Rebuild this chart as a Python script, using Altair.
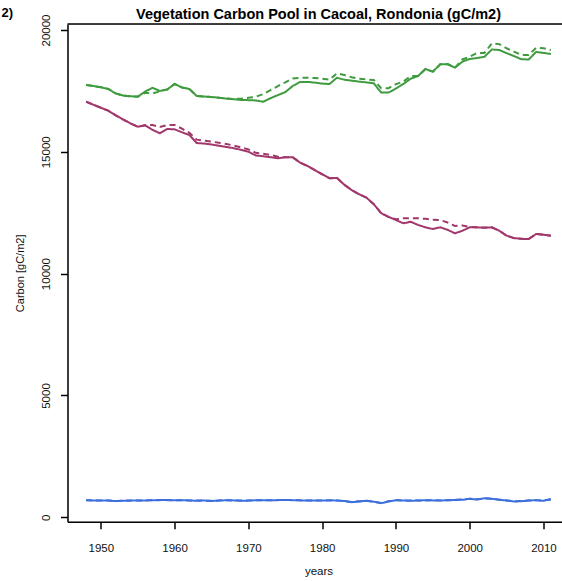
import altair as alt
import pandas as pd

years = list(range(1948, 2012))

green_solid = [17745, 17700,
               17650, 17580, 17400, 17310, 17280, 17265, 17470, 17630, 17500, 17560,
               17785, 17640, 17580, 17290, 17270, 17250, 17220, 17185, 17160, 17130,
               17120, 17110, 17055, 17200, 17330, 17450, 17700, 17870, 17870, 17840,
               17800, 17784, 18040, 17960, 17920, 17880, 17850, 17810, 17430, 17430,
               17600, 17784, 18000, 18110, 18400, 18290, 18590, 18600, 18454, 18700,
               18810, 18850, 18900, 19200, 19180, 19050, 18930, 18800, 18790, 19100,
               19060, 19015]
green_dashed = [17745, 17700,
                17650, 17580, 17400, 17310, 17280, 17265, 17420, 17400, 17480, 17560,
                17785, 17640, 17580, 17290, 17270, 17250, 17220, 17185, 17170, 17180,
                17220, 17260, 17370, 17530, 17700, 17850, 18010, 18040, 18040, 18030,
                18000, 17960, 18220, 18150, 18060, 18000, 17970, 17950, 17610, 17610,
                17780, 17880, 18110, 18110, 18400, 18290, 18590, 18600, 18454, 18790,
                18900, 19060, 19060, 19450, 19420, 19250, 19110, 18975, 18975, 19270,
                19250, 19180]
purple_solid = [17058, 16930,
                16810, 16689, 16500, 16330, 16170, 16032, 16089, 15900, 15761, 15937,
                15923, 15800, 15691, 15360, 15340, 15300, 15250, 15200, 15150, 15080,
                15005, 14850, 14820, 14780, 14734, 14775, 14775, 14560, 14420, 14250,
                14080, 13913, 13930, 13650, 13430, 13260, 13120, 12850, 12480, 12330,
                12202, 12066, 12130, 12000, 11900, 11832, 11902, 11800, 11656, 11760,
                11902, 11900, 11890, 11900, 11763, 11560, 11460, 11430, 11422, 11627,
                11600, 11558]
purple_dashed = [17058, 16930,
                 16810, 16689, 16500, 16330, 16170, 16032, 16089, 16100, 16020, 16100,
                 16100, 15950, 15780, 15500, 15460, 15420, 15370, 15320, 15260, 15180,
                 15100, 14960, 14920, 14870, 14800, 14780, 14775, 14560, 14420, 14250,
                 14080, 13913, 13930, 13650, 13430, 13260, 13120, 12850, 12480, 12330,
                 12230, 12272, 12280, 12272, 12250, 12210, 12200, 12100, 11956, 11980,
                 11920, 11890, 11880, 11900, 11763, 11560, 11460, 11430, 11422, 11627,
                 11600, 11558]
blue_solid = [700, 690,
              695, 690, 665, 680, 685, 690, 690, 700, 705, 710,
              700, 705, 690, 680, 690, 670, 685, 700, 695, 680,
              685, 700, 705, 695, 705, 715, 700, 695, 690, 695,
              690, 700, 690, 670, 620, 650, 680, 640, 580, 650,
              700, 690, 680, 690, 700, 695, 690, 700, 710, 720,
              760, 730, 780, 760, 720, 690, 650, 660, 690, 700,
              680, 740]
blue_dashed = [705, 695,
               690, 695, 670, 685, 690, 695, 695, 705, 710, 705,
               705, 700, 695, 685, 685, 675, 690, 705, 690, 685,
               690, 705, 700, 700, 710, 710, 705, 700, 695, 690,
               695, 695, 695, 665, 630, 655, 675, 645, 590, 655,
               705, 695, 685, 695, 695, 700, 695, 705, 715, 730,
               765, 740, 785, 765, 725, 695, 660, 665, 695, 705,
               690, 745]

x_ticks = [1950, 1960, 1970, 1980, 1990, 2000, 2010]
y_ticks = [0, 5000, 10000, 15000, 20000]
title_text = "Vegetation Carbon Pool in Cacoal, Rondonia (gC/m2)"
panel_text = "2)"

series = [
    ("green_solid", "green", "solid", green_solid),
    ("green_dashed", "green", "dashed", green_dashed),
    ("purple_solid", "purple", "solid", purple_solid),
    ("purple_dashed", "purple", "dashed", purple_dashed),
    ("blue_solid", "blue", "solid", blue_solid),
    ("blue_dashed", "blue", "dashed", blue_dashed),
]
rows = []
for key, pool, style, vals in series:
    for yr, v in zip(years, vals):
        rows.append({"year": yr, "carbon": v, "series": key, "pool": pool, "style": style})
df = pd.DataFrame(rows)

W = 494.5
H = 497.7
FONT = "Liberation Sans"

x_enc = alt.X("year:Q",
              scale=alt.Scale(domain=[1945.48, 2012.51], nice=False, zero=False),
              axis=alt.Axis(values=x_ticks, format="d", grid=False,
                            domainColor="black", domainWidth=1.5,
                            tickColor="black", tickWidth=1.5, tickSize=7,
                            labelFontSize=11.5, labelColor="#111111",
                            labelBaseline="middle", labelPadding=20,
                            labelFont=FONT,
                            title="years", titleFont=FONT, titleFontSize=11.5,
                            titleFontWeight="normal", titleColor="#111111",
                            titleX=251, titleY=50, titleBaseline="middle"))
y_enc = alt.Y("carbon:Q",
              scale=alt.Scale(domain=[-180, 20246], nice=False, zero=False),
              axis=alt.Axis(values=y_ticks, format="d", grid=False,
                            domainColor="black", domainWidth=1.5,
                            tickColor="black", tickWidth=1.5, tickSize=7,
                            labelFontSize=11.5, labelColor="#111111",
                            labelAngle=270, labelAlign="center",
                            labelBaseline="middle", labelPadding=14,
                            labelFont=FONT,
                            title="Carbon [gC/m2]", titleFont=FONT,
                            titleFontSize=11, titleFontWeight="normal",
                            titleColor="#111111", titleAngle=270,
                            titleAlign="center", titleBaseline="middle",
                            titleX=-47, titleY=H / 2))

lines = alt.Chart(df).mark_line(strokeWidth=2).encode(
    x=x_enc,
    y=y_enc,
    color=alt.Color("pool:N",
                    scale=alt.Scale(domain=["green", "purple", "blue"],
                                    range=["#3e9b3e", "#a1386b", "#3c6fdc"]),
                    legend=None),
    strokeDash=alt.StrokeDash("style:N",
                              scale=alt.Scale(domain=["solid", "dashed"],
                                              range=[[1, 0], [6, 4]]),
                              legend=None),
    detail="series:N",
)

one = pd.DataFrame({"t": [panel_text], "title": [title_text]})
top_rule = alt.Chart(one).mark_rule(color="black", strokeWidth=1.5).encode(
    x=alt.value(0), x2=alt.value(W), y=alt.value(0))
panel_label = alt.Chart(one).mark_text(
    align="left", baseline="alphabetic", fontWeight="bold", fontSize=13,
    font=FONT, color="black").encode(
    x=alt.value(-66), y=alt.value(-7), text="t:N")
title_mark = alt.Chart(one).mark_text(
    align="center", baseline="alphabetic", fontWeight="bold", fontSize=14.5,
    font=FONT, color="black").encode(
    x=alt.value(251), y=alt.value(-5), text="title:N")

chart = alt.layer(lines, top_rule, panel_label, title_mark).properties(
    width=W, height=H,
    padding={"left": 67.5, "top": 24, "right": 0, "bottom": 59.3},
    autosize=alt.AutoSizeParams(type="none"),
).configure_view(stroke=None).configure(background="white")

chart.save("out.html", embed_options={"renderer": "svg", "actions": False})
